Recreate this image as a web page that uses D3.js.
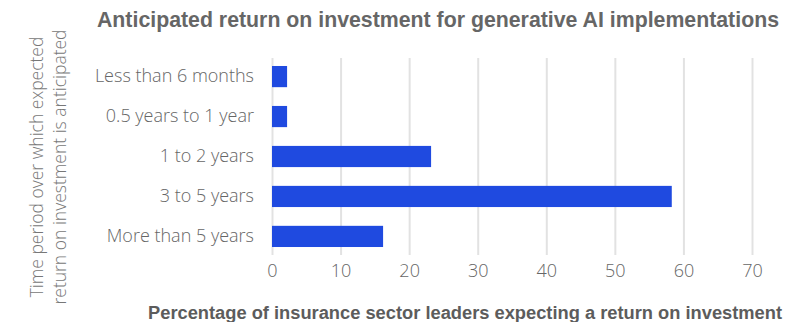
<!DOCTYPE html>
<html>
<head>
<meta charset="utf-8">
<script src="https://cdn.jsdelivr.net/npm/d3@7"></script>
<style>
  body { margin: 0; background: #fff; }
  text { font-family: "Liberation Sans", Arial, sans-serif; }
</style>
</head>
<body>
<svg id="chart"></svg>
<script>
const categories = ['Less than 6 months', '0.5 years to 1 year', '1 to 2 years', '3 to 5 years', 'More than 5 years'];
const values = [2.2, 2.2, 23.2, 58.3, 16.2];
const xTicks = [0, 10, 20, 30, 40, 50, 60, 70];
const title = 'Anticipated return on investment for generative AI implementations';
const xTitle = 'Percentage of insurance sector leaders expecting a return on investment';
const yTitle = ['Time period over which expected', 'return on investment is anticipated'];

const width = 796;
const height = 322;
const margin = { top: 58, right: 44, bottom: 67, left: 272 };
const lightFont = '"Open Sans", sans-serif';

const svg = d3.select('#chart').attr('width', width).attr('height', height);

const x = d3.scaleLinear()
  .domain([0, 70])
  .range([margin.left, width - margin.right]);

const y = d3.scaleBand()
  .domain(categories)
  .range([margin.top, height - margin.bottom])
  .paddingInner(0.47)
  .paddingOuter(0.2);

// gridlines
const grid = svg.append('g')
  .attr('transform', `translate(0,${height - margin.bottom})`)
  .call(d3.axisBottom(x).tickValues(xTicks).tickSize(-(height - margin.bottom - margin.top)).tickFormat(''));
grid.select('.domain').remove();
grid.selectAll('.tick line').attr('stroke', '#e2e2e2').attr('stroke-width', 2);

svg.selectAll('.bar')
  .data(values)
  .enter().append('rect')
  .attr('class', 'bar')
  .attr('x', x(0))
  .attr('y', (d, i) => y(categories[i]))
  .attr('width', d => x(d) - x(0))
  .attr('height', y.bandwidth())
  .attr('fill', '#1f4ae0');

const xAxis = svg.append('g')
  .attr('transform', `translate(0,${height - margin.bottom})`)
  .call(d3.axisBottom(x).tickValues(xTicks).tickSize(0).tickPadding(9));
xAxis.select('.domain').remove();
xAxis.selectAll('text').attr('font-size', 18).attr('font-weight', 300).attr('fill', '#666')
  .style('font-family', lightFont);

const yAxis = svg.append('g')
  .attr('transform', `translate(${margin.left},0)`)
  .call(d3.axisLeft(y).tickSize(0).tickPadding(18));
yAxis.select('.domain').remove();
yAxis.selectAll('text').attr('font-size', 18).attr('font-weight', 300).attr('fill', '#666')
  .style('font-family', lightFont);

svg.append('text')
  .attr('x', 438)
  .attr('y', 27)
  .attr('text-anchor', 'middle')
  .attr('font-size', 21.3)
  .attr('font-weight', 'bold')
  .attr('fill', '#666')
  .text(title);

svg.append('text')
  .attr('x', 465)
  .attr('y', 319)
  .attr('text-anchor', 'middle')
  .attr('font-size', 18.3)
  .attr('font-weight', 'bold')
  .attr('fill', '#5c5c5c')
  .text(xTitle);

const yt = svg.append('text')
  .attr('transform', 'translate(0,167) rotate(-90)')
  .attr('text-anchor', 'middle')
  .attr('font-size', 17.5)
  .attr('font-weight', 300)
  .attr('fill', '#777')
  .style('font-family', lightFont);
yt.selectAll('tspan')
  .data(yTitle)
  .enter().append('tspan')
  .attr('x', 0)
  .attr('y', (d, i) => 43 + i * 23)
  .text(d => d);
</script>
</body>
</html>
